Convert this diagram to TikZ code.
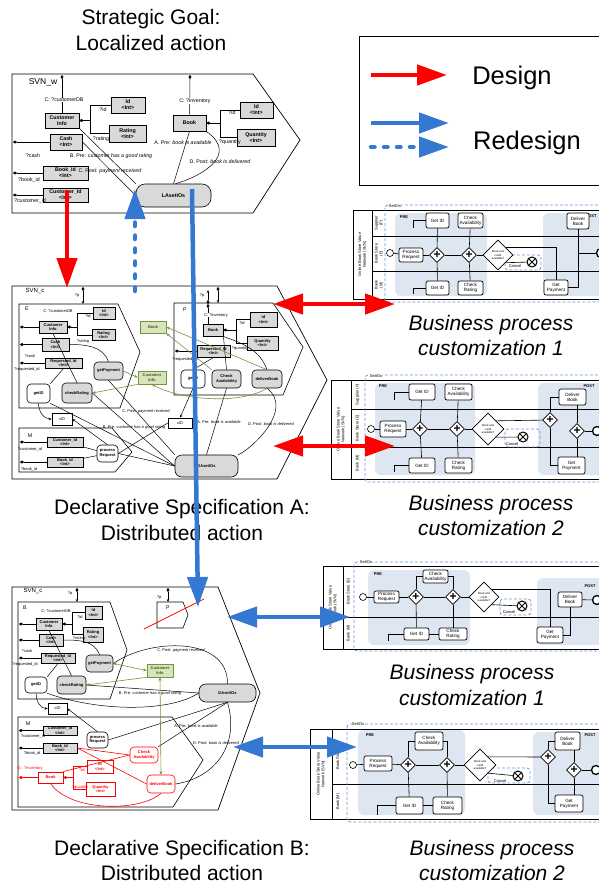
\documentclass[tikz,border=0pt]{standalone}
\usepackage{fontspec}
\setmainfont{Liberation Sans}
\usepackage{tikz}
\usetikzlibrary{arrows.meta}
\usetikzlibrary{shapes.geometric}

\definecolor{dsred}{RGB}{255,0,0}
\definecolor{rdblue}{RGB}{52,120,210}
\definecolor{boxgray}{RGB}{217,217,217}
\definecolor{grnfill}{RGB}{216,228,188}
\definecolor{grnline}{RGB}{118,146,60}
\definecolor{prefill}{RGB}{222,230,242}
\definecolor{grpblue}{RGB}{105,150,210}

\newcommand\tny{\fontsize{4}{4.6}\selectfont}
\newcommand\sml{\fontsize{5.3}{6}\selectfont}
\newcommand\bpf{\fontsize{4.6}{5.2}\selectfont}
\newcommand\ttl{\fontsize{21}{25.5}\selectfont}
\newcommand\lgd{\fontsize{25.5}{28}\selectfont}

\tikzset{
  sz/.style 2 args={minimum width=#1pt, minimum height=#2pt},
  heading/.style={font=\ttl, align=center, inner sep=0pt},
  svn/.style={draw, line width=0.7pt},
  attrw/.style={draw, fill=boxgray, line width=1pt, font=\sml\bfseries, align=center, inner sep=0pt},
  attr/.style={draw, fill=boxgray, line width=0.9pt, font=\tny\bfseries, align=center, inner sep=0pt},
  actg/.style={draw, fill=boxgray, rounded corners=4pt, line width=0.6pt, font=\tny\bfseries, align=center, inner sep=0pt},
  actw/.style={actg, fill=white},
  cidbox/.style={draw, fill=white, line width=0.6pt, font=\tny, inner sep=0pt},
  redattr/.style={attr, draw=dsred, text=dsred, fill=white},
  redact/.style={actw, draw=dsred, text=dsred},
  grnbox/.style={draw=grnline, fill=grnfill, line width=0.7pt, font=\tny\bfseries, text=grnline!60!black, align=center, inner sep=0pt},
  lblw/.style={font=\sml, inner sep=0.3pt},
  lbl/.style={font=\tny, inner sep=0.3pt},
  cnx/.style={line width=0.5pt},
  port/.style={line width=0.5pt, {Diamond[length=4pt,width=3pt]}-},
  portin/.style={line width=0.5pt, {Diamond[length=4pt,width=3pt]}-{Stealth[length=3pt,width=2.5pt]}},
  arrto/.style={line width=0.5pt, -{Stealth[length=3pt,width=2.5pt]}},
  grnln/.style={draw=grnline, line width=0.6pt, -{Stealth[length=3.5pt,width=3pt]}},
  grnln2/.style={draw=grnline, line width=0.6pt, {Stealth[length=3.5pt,width=3pt]}-{Stealth[length=3.5pt,width=3pt]}},
  redln/.style={draw=dsred, line width=0.6pt},
  pool/.style={draw, line width=0.8pt},
  lane/.style={line width=0.8pt},
  bptask/.style={draw, fill=white, rounded corners=2pt, line width=0.7pt, font=\bpf, align=center, inner sep=0pt},
  gw/.style={draw, fill=white, diamond, aspect=1, line width=0.7pt, inner sep=0pt, minimum size=15pt, font=\fontsize{12}{12}\selectfont\bfseries},
  bpdec/.style={draw, fill=white, diamond, aspect=1, line width=0.7pt, inner sep=0pt, minimum size=30pt, font=\fontsize{2.8}{3.2}\selectfont, align=center},
  startev/.style={circle, draw, fill=white, minimum size=7pt, inner sep=0pt, line width=0.6pt},
  endev/.style={circle, draw, fill=white, minimum size=9pt, inner sep=0pt, line width=1.3pt},
  cancelev/.style={circle, draw, fill=white, minimum size=10pt, inner sep=0pt, line width=1pt},
  grp/.style={draw=grpblue, dash pattern=on 3pt off 2pt, line width=0.8pt, rounded corners=3pt},
  prepost/.style={fill=prefill, rounded corners=6pt},
  flow/.style={line width=0.6pt},
  bplbl/.style={rotate=90, font=\tny, align=center, inner sep=0pt},
  dsgn/.style={draw=dsred, line width=4.5pt, -{Triangle[length=30pt,width=20pt]}},
  rdsgn/.style={draw=rdblue, line width=4.5pt, -{Triangle[length=30pt,width=20pt]}},
  dsgn2/.style={draw=dsred, line width=4.5pt, {Triangle[length=30pt,width=20pt]}-{Triangle[length=30pt,width=20pt]}},
  rdsgn2/.style={draw=rdblue, line width=4.5pt, {Triangle[length=30pt,width=20pt]}-{Triangle[length=30pt,width=20pt]}},
  rdash/.style={dash pattern=on 3.5pt off 9.5pt, line cap=round}
}

\newcommand\crossev[1]{\draw[line width=0.8pt] (#1.45) -- (#1.225) (#1.135) -- (#1.315);}

\begin{document}
\begin{tikzpicture}[x=1pt, y=-1pt, every node/.style={font=\tny, inner sep=0.5pt}]
\useasboundingbox (0,0) rectangle (599,884);

% titles
\node[heading] (goal) at (151,29.75) {Strategic Goal:\\Localized action};
\node[heading] (specA) at (182,520) {Declarative Specification A:\\Distributed action};
\node[heading] (specB) at (182,860.5) {Declarative Specification B:\\Distributed action};
\node[heading, font=\ttl\itshape] (cust1) at (491,335.5) {Business process\\customization 1};
\node[heading, font=\ttl\itshape] (cust2) at (491,515.5) {Business process\\customization 2};
\node[heading, font=\ttl\itshape] (cust3) at (472,685) {Business process\\customization 1};
\node[heading, font=\ttl\itshape] (cust4) at (492,860.5) {Business process\\customization 2};

% legend
\draw[line width=0.8pt] (359,36) rectangle (602,185);
\coordinate (lg1a) at (371,75);
\coordinate (lg1b) at (447,75);
\coordinate (lg2a) at (371,123);
\coordinate (lg2b) at (449,123);
\coordinate (lg3a) at (371,147);
\coordinate (lg3b) at (449,147);
\draw[dsgn] (lg1a) -- (lg1b);
\draw[rdsgn] (lg2a) -- (lg2b);
\draw[rdsgn, rdash] (lg3a) -- (lg3b);
\node[font=\lgd, inner sep=0pt] (lgdes) at (512,78) {Design};
\node[font=\lgd, inner sep=0pt] (lgred) at (527,142.5) {Redesign};

% ---------------- SVN_w ----------------
\draw[svn] (12,74) -- (253,74) -- (300,140) -- (253,213) -- (12,213) -- cycle;
\node[font=\fontsize{8.5}{9}\selectfont] (svnw) at (43,82) {SVN\_w};
\node[attrw, sz={34}{15}] (cinfoW) at (62,120.5) {Customer\\Info};
\node[attrw, sz={34}{16}] (idW) at (128,105) {Id\\<Int>};
\node[attrw, sz={37}{17}] (ratW) at (127.5,133.5) {Rating\\<Int>};
\node[attrw, sz={32}{16}] (cashW) at (66,142) {Cash\\<Int>};
\node[attrw, sz={45}{14}] (bidW) at (65.5,173) {Book\_Id\\<Int>};
\node[attrw, sz={45}{14}] (cidW) at (65.5,195) {Customer\_Id\\<Int>};
\node[attrw, sz={33}{16}] (bookW) at (189.5,123) {Book};
\node[attrw, sz={33}{16}] (id2W) at (256.5,110) {Id\\<Int>};
\node[attrw, sz={38}{17}] (qtyW) at (256,137.5) {Quantity\\<Int>};
\node[actg, sz={75}{23}, rounded corners=9pt, font=\sml\bfseries] (laW) at (173.5,195.5) {LAsetIOs};

\coordinate (pw1) at (62,75);
\coordinate (pw2) at (190,75);
\coordinate (pw3) at (13,142);
\coordinate (pw4) at (13,173);
\coordinate (pw5) at (13,195);
\draw[port] (pw1) -- (cinfoW);
\draw[port] (pw2) -- (bookW);
\draw[port] (pw3) -- (cashW);
\draw[port] (pw4) -- (bidW);
\draw[port] (pw5) -- (cidW);
\draw[port] (cinfoW.east) -- ++(11,0) coordinate (bw1) |- (idW);
\draw[cnx] (bw1) |- (ratW);
\draw[port] (bookW.east) -- ++(14,0) coordinate (bw2) |- (id2W);
\draw[cnx] (bw2) |- (qtyW);

\draw[cnx] (cinfoW.south east) -- (laW.north west);
\draw[cnx] (cashW.east) -- (laW.west);
\draw[cnx] (bookW.south) -- (laW.north);
\draw[cnx] (bookW.south east) .. controls (240,155) and (200,177) .. ([xshift=2pt]laW.north);

\node[lblw, fill=white] (lw1) at (64,100) {C: ?customerDB};
\node[lblw, fill=white] (lw2) at (195,101) {C: ?inventory};
\node[lblw] (lw3) at (103,110) {?id};
\node[lblw] (lw4) at (101,139) {?rating};
\node[lblw] (lw5) at (33,156) {?cash};
\node[lblw] (lw6) at (29,180) {?book\_id};
\node[lblw] (lw7) at (30,201) {?customer\_id};
\node[lblw] (lw8) at (232,113) {?id};
\node[lblw] (lw9) at (230,142) {?quantity};
\node[lblw] (lwa) at (183,143) {A. Pre: \textit{book is available}};
\node[lblw] (lwb) at (111,156) {B. Pre: \textit{customer has a good rating}};
\node[lblw] (lwc) at (110,171) {C. Post: \textit{payment received}};
\node[lblw] (lwd) at (220,162) {D. Post: \textit{book is delivered}};

% ---------------- SVN_c (A) ----------------
\draw[svn] (12,286) -- (277,286) -- (327,380) -- (277,479) -- (12,479) -- cycle;
\draw[svn, line width=0.6pt] (19,304) -- (118,304) -- (140,352) -- (120,408) -- (19,408) -- cycle;
\draw[svn, line width=0.6pt] (174,303) -- (273,303) -- (303,347) -- (283,395) -- (174,395) -- cycle;
\draw[svn, line width=0.6pt] (19,428) -- (112,428) -- (132,452) -- (115,472) -- (19,472) -- cycle;
\node[font=\fontsize{6}{7}\selectfont] (svna) at (35,290.5) {SVN\_c};
\node[font=\sml] (lae) at (27,309) {E};
\node[font=\sml] (lap) at (185,310) {P};
\node[font=\sml] (lam) at (30,436) {M};

\node[attr, sz={28}{12}] (cinfoA) at (53,327) {Customer\\Info};
\node[attr, sz={22}{12}] (idA) at (104,313) {Id\\<Int>};
\node[attr, sz={23}{11}] (ratA) at (103.5,335) {Rating\\<Int>};
\node[attr, sz={27}{13}] (cashA) at (55.5,344.5) {Cash\\<Int>};
\node[attr, sz={37}{10}] (reqA) at (63.5,363) {Requested\_Id\\<Int>};
\node[actw, sz={23}{19}] (getidA) at (38.5,393.5) {getID};
\node[actg, sz={30}{20}] (chkA) at (77,393) {checkRating};
\node[actg, sz={29}{18}] (payA) at (108.5,371) {getPayment};
\node[grnbox, sz={26}{12}] (gbookA) at (153,327) {Book};
\node[grnbox, sz={28}{13}] (gcinfoA) at (152,377.5) {Customer\\Info};
\node[cidbox, sz={20}{12}] (cidA) at (62,419) {cID};
\node[attr, sz={36}{10}] (cuidA) at (65,442) {Customer\_Id\\<Int>};
\node[attr, sz={36}{10}] (bkidA) at (65,462) {Book\_Id\\<Int>};
\node[actw, sz={21}{17}] (procA) at (107.5,453.5) {process\\Request};
\node[actg, sz={63}{22}, rounded corners=7pt] (daA) at (206.5,466) {DAsetIOs};
\node[cidbox, sz={24}{10}] (cid2A) at (180,423) {cID};
\node[attr, sz={20}{12}] (bookA) at (213,330) {Book};
\node[attr, sz={27}{15}] (id2A) at (263.5,319.5) {Id\\<Int>};
\node[attr, sz={31}{14}] (qtyA) at (262.5,343) {Quantity\\<Int>};
\node[attr, sz={33}{12}] (req2A) at (213.5,351) {Requested\_Id\\<Int>};
\node[actw, sz={24}{18}] (getid2A) at (193,379) {getID};
\node[actg, sz={29}{18}] (chkavA) at (226.5,379) {Check\\Availability};
\node[actg, sz={30}{18}] (delA) at (267,379) {deliverBook};

\coordinate (pa1) at (83,287);
\coordinate (pa1e) at (83,304);
\coordinate (pa2) at (218,287);
\coordinate (pa2e) at (218,303);
\coordinate (pa3) at (208,304);
\coordinate (pa3e) at (208,290);
\draw[portin] (pa1) -- (pa1e);
\draw[portin] (pa2) -- (pa2e);
\draw[portin] (pa3) -- (pa3e);
\draw[port] (pa3) -- (pa3 |- bookA.north);
\coordinate (pe1) at (20,327);
\coordinate (pe2) at (20,344.5);
\coordinate (pe3) at (20,363);
\coordinate (pp1) at (175,351);
\coordinate (pm1) at (20,442);
\coordinate (pm2) at (20,462);
\draw[port] (pe1) -- (cinfoA);
\draw[port] (pe2) -- (cashA);
\draw[port] (pe3) -- (reqA);
\draw[port] (pp1) -- (req2A);
\draw[port] (pm1) -- (cuidA);
\draw[port] (pm2) -- (bkidA);
\draw[port] (cinfoA.east) -- ++(10,0) coordinate (ba1) |- (idA);
\draw[cnx] (ba1) |- (ratA);
\draw[port] (bookA.east) -- ++(13,0) coordinate (ba2) |- (id2A);
\draw[cnx] (ba2) |- (qtyA);

\draw[cnx] (cinfoA.south) -- (chkA.north);
\draw[cnx] (cashA.east) to[out=0, in=110] (payA.north);
\draw[cnx] (reqA.south) -- (getidA.north east);
\draw[arrto] (getidA.south) to[out=-90, in=180] (cidA.west);
\draw[arrto] (procA.north) -- (cidA.east);
\draw[cnx] (getidA.south east) -- (daA.west);
\draw[cnx] (chkA.east) -- (daA.west);
\draw[cnx] (payA.south) -- (daA.north west);
\draw[cnx] (procA.east) -- (daA.west);
\draw[cnx] (procA.east) -- (cid2A.west);
\draw[cnx] (cuidA) -- (procA);
\draw[cnx] (bkidA) -- (procA);
\draw[cnx] (req2A.south) -- (getid2A.north);
\draw[arrto] (getid2A.south) -- (cid2A.north);
\draw[cnx] (chkavA.south) -- (daA.north);
\draw[cnx] (delA.south) .. controls (295,410) and (250,450) .. (daA.north east);
\draw[cnx] (bookA.south east) -- (chkavA.north);
\draw[cnx] (bookA.south east) to[out=-20, in=110] (delA.north);
\draw[grnln] (chkavA.north west) -- (gbookA.south east);
\draw[grnln] (delA.north) -- (gbookA.east);
\draw[grnln] (payA.east) -- (gcinfoA.west);
\draw[grnln] (gcinfoA.south west) -- (chkA.east);
\draw[grnln] (delA.south) .. controls (240,405) and (180,400) .. (gcinfoA.south);

\node[lbl] (lcdbA) at (58,311) {C: ?customerDB};
\node[lbl] (lidA) at (88,316) {?id};
\node[lbl] (lratA) at (83,341) {?rating};
\node[lbl] (lcashA) at (30,356) {?cash};
\node[lbl] (lreqA) at (27,369) {?requested\_id};
\node[lbl] (lpa1) at (77,296) {?p};
\node[lbl] (lpa2) at (202,296) {?p};
\node[lbl, fill=white] (linvA) at (216,315) {C: ?inventory};
\node[lbl] (lreq2A) at (185,359) {?requested\_id};
\node[lbl] (lid2A) at (242,323) {?id};
\node[lbl] (lqtyA) at (240,348) {?quantity};
\node[lbl] (lcuA) at (30,449) {?customer\_id};
\node[lbl] (lbkA) at (29,469) {?book\_id};
\node[lbl] (lac) at (146,411) {C. Post: \textit{payment received}};
\node[lbl] (lab) at (134,427) {B. Pre: \textit{customer has a good rating}};
\node[lbl] (laa) at (219,422) {A. Pre: \textit{book is available}};
\node[lbl] (lad) at (271,424) {D. Post: \textit{book is delivered}};

% ---------------- SVN_c (B) ----------------
\draw[svn] (12,587) -- (218,587) -- (260,693) -- (218,810) -- (12,810) -- cycle;
\draw[svn, line width=0.6pt] (18,602) -- (110,602) -- (127,650) -- (110,699) -- (18,699) -- cycle;
\draw[svn, line width=0.6pt] (157,602) -- (183,602) -- (188,615) -- (183,628) -- (157,628) -- cycle;
\draw[svn, line width=0.6pt] (18,717) -- (172,717) -- (203,760) -- (173,807) -- (18,807) -- cycle;
\node[font=\fontsize{6}{7}\selectfont] (svnb) at (33,590.5) {SVN\_c};
\node[font=\sml] (lbB) at (25,608) {B};
\node[font=\sml] (lbP) at (168,608) {P};
\node[font=\sml] (lbM) at (28,724) {M};

\node[attr, sz={26}{12}] (cinfoB) at (49,624) {Customer\\Info};
\node[attr, sz={17}{13}] (idB) at (93.5,612.5) {Id\\<Int>};
\node[attr, sz={20}{15}] (ratB) at (93,634.5) {Rating\\<Int>};
\node[attr, sz={24}{12}] (cashB) at (51,640) {Cash\\<Int>};
\node[attr, sz={34}{10}] (reqB) at (58,658) {Requested\_Id\\<Int>};
\node[actw, sz={22}{16}] (getidB) at (36,685) {getID};
\node[actg, sz={29}{18}] (chkB) at (71.5,685) {checkRating};
\node[actg, sz={27}{17}] (payB) at (99.5,663.5) {getPayment};
\node[grnbox, sz={26}{13}] (grnB) at (160,670.5) {Customer\\Info};
\node[actg, sz={57}{18}, rounded corners=7pt] (daB) at (227.5,693) {DAsetIOs};
\node[cidbox, sz={19}{11}] (cidB) at (57.5,708.5) {cID};
\node[attr, sz={34}{9}] (cuidB) at (60,730.5) {Customer\_Id\\<Int>};
\node[attr, sz={34}{10}] (bkidB) at (60,748) {Book\_Id\\<Int>};
\node[actw, sz={21}{16}] (procB) at (97.5,740) {process\\Request};
\node[redact, sz={28}{16}] (chkavB) at (144,755) {Check\\Availability};
\node[redact, sz={28}{18}] (delB) at (161,784) {deliverBook};
\node[redattr, sz={25}{11}] (bookB) at (50.5,777.5) {Book};
\node[redattr, sz={26}{13}] (idB2) at (100,766.5) {Id\\<Int>};
\node[redattr, sz={29}{14}] (qtyB) at (100.5,789) {Quantity\\<Int>};

\coordinate (pb1) at (77,588);
\coordinate (pb1e) at (77,602);
\coordinate (pb2) at (168,588);
\coordinate (pb2e) at (168,602);
\draw[portin] (pb1) -- (pb1e);
\draw[portin] (pb2) -- (pb2e);
\coordinate (pb3) at (19,624);
\coordinate (pb4) at (19,640);
\coordinate (pb5) at (19,658);
\coordinate (pb6) at (19,730.5);
\coordinate (pb7) at (19,748);
\coordinate (pb8) at (19,777.5);
\draw[port] (pb3) -- (cinfoB);
\draw[port] (pb4) -- (cashB);
\draw[port] (pb5) -- (reqB);
\draw[port] (pb6) -- (cuidB);
\draw[port] (pb7) -- (bkidB);
\draw[port, draw=dsred, {Diamond[length=4pt,width=3pt,fill=dsred]}-] (pb8) -- (bookB);
\draw[port] (cinfoB.east) -- ++(10,0) coordinate (bb1) |- (idB);
\draw[cnx] (bb1) |- (ratB);
\draw[port, draw=dsred, {Diamond[length=4pt,width=3pt,fill=dsred]}-] (bookB.east) -- ++(10,0) coordinate (bb2) |- (idB2);
\draw[redln] (bb2) |- (qtyB);
\coordinate (rs1) at (144,629);
\coordinate (rs2) at (204,599);
\draw[redln, line width=0.7pt] (rs1) -- (rs2);

\draw[cnx] (cinfoB.south) -- (chkB.north);
\draw[cnx] (cashB.east) to[out=0, in=110] (payB.north);
\draw[cnx] (reqB.south) -- (getidB.north east);
\draw[arrto] (getidB.south) to[out=-90, in=180] (cidB.west);
\draw[arrto] (procB.north) -- (cidB.east);
\draw[cnx] (getidB.south east) .. controls (100,712) and (170,712) .. (daB.west);
\draw[cnx] (chkB.east) -- (daB.west);
\draw[cnx] (payB.east) .. controls (150,638) and (228,636) .. (daB.north);
\draw[cnx] (procB.east) -- (daB.south);
\draw[cnx] (chkavB.north east) -- (daB.south);
\draw[cnx] (daB.south) .. controls (240,745) and (215,778) .. (delB.east);
\draw[redln] (bkidB.east) -- (chkavB.west);
\draw[redln] (bkidB.east) -- (delB.west);
\draw[redln] (bookB.north east) -- (chkavB.west);
\draw[redln] (bookB.south) .. controls (70,812) and (140,812) .. (delB.south);
\draw[grnln2] (payB.east) -- (grnB.west);
\draw[grnln] (grnB.south west) -- (chkB.east);
\draw[grnln2] (grnB.south) -- (delB.north);

\node[lbl] (lcdbB) at (56,611) {C: ?customerDB};
\node[lbl] (lidB) at (80,617) {?id};
\node[lbl] (lratB) at (79,638) {?rating};
\node[lbl] (lcashB) at (27,651) {?cash};
\node[lbl] (lreqB) at (25,664) {?requested\_id};
\node[lbl] (lpb1) at (70,594) {?p};
\node[lbl] (lpb2) at (159,598) {?p};
\node[lbl] (lcuB) at (33,736) {?customer\_id};
\node[lbl] (lbkB) at (32,753) {?book\_id};
\node[lbl, text=dsred] (linvB) at (30,768) {O.: ?inventory};
\node[lbl, text=dsred] (lidB2) at (82,770) {?id};
\node[lbl, text=dsred] (lqtyB) at (80,787) {?quantity};
\node[lbl] (lbc) at (181,650) {C. Post: \textit{payment received}};
\node[lbl] (lbb) at (150,693) {B. Pre: \textit{customer has a good rating}};
\node[lbl] (lba) at (196,726) {A. Pre: \textit{book is available}};
\node[lbl] (lbd) at (216,743) {D. Post: \textit{book is delivered}};

% ---------------- BP 1 ----------------
\fill[prepost] (395,213) rectangle (487,296);
\fill[prepost] (543,213) rectangle (615,296);
\draw[pool] (353,210) rectangle (615,299);
\draw[lane] (372,210) -- (372,299);
\draw[lane] (372,236) -- (615,236);
\draw[lane] (372,271) -- (615,271);
\draw[grp] (385,205) rectangle (618,302);
\node[lbl, fill=white] (g1lb) at (395,206) {SetIOs};
\node[lbl, font=\tny\bfseries] (pre1) at (404,217) {PRE};
\node[lbl, font=\tny\bfseries] (post1) at (591,216) {POST};
\node[bplbl] (t1) at (362.5,254.5) {Online Book Store Value\\Network (SVN)};
\node[bplbl] (l1a) at (379,223) {Supplier\\(P)};
\node[bplbl] (l1b) at (379,253.5) {Book Store\\(E)};
\node[bplbl] (l1c) at (379,285) {Bank\\(M)};
\draw[grp] (505,255) rectangle (541,270);
\node[startev] (s1) at (390,253) {};
\node[bptask, sz={24}{14}] (pr1) at (411,255) {Process\\Request};
\node[gw] (ga1) at (437,255) {+};
\node[gw] (gb1) at (469,255) {+};
\node[bpdec] (d1) at (498,255) {Book and\\credit\\available?};
\node[cancelev] (x1) at (532,262) {};
\crossev{x1}
\node[lbl] (cn1) at (515,266) {Cancel};
\node[bptask, sz={23}{15}] (gi1) at (437.5,220.5) {Get ID};
\node[bptask, sz={25}{15}] (ca1) at (470.5,220.5) {Check\\Availability};
\node[bptask, sz={23}{14}] (gj1) at (437.5,288) {Get ID};
\node[bptask, sz={25}{14}] (cr1) at (470.5,288) {Check\\Rating};
\node[bptask, sz={22}{16}] (db1) at (578,221) {Deliver\\Book};
\node[bptask, sz={24}{15}] (gp1) at (556,287.5) {Get\\Payment};
\node[endev] (e1) at (601,253) {};
\draw[flow] (s1) -- (pr1);
\draw[flow] (pr1) -- (ga1);
\draw[flow] (ga1) -- (gb1);
\draw[flow] (gb1) -- (d1);
\draw[flow] (ga1) -- (gi1);
\draw[flow] (ga1) -- (gj1);
\draw[flow] (gb1) -- (ca1);
\draw[flow] (gb1) -- (cr1);
\draw[flow] (d1.north east) -| (gp1.north);
\draw[flow] (d1.south east) -- (x1);
\draw[flow] (gp1.east) -| (db1.south);
\draw[flow] (db1) |- (e1);
\draw[flow] (gi1.west) -- ++(-12,0) -- ++(0,7);
\draw[flow] (gj1.west) -- ++(-12,0) -- ++(0,6);

% ---------------- BP 2 ----------------
\fill[prepost] (375,383) rectangle (475,475);
\fill[prepost] (538,383) rectangle (615,475);
\draw[pool] (331,380) rectangle (615,479);
\draw[lane] (351,380) -- (351,479);
\draw[lane] (351,409) -- (615,409);
\draw[lane] (351,447) -- (615,447);
\draw[grp] (365,375) rectangle (618,482);
\node[lbl, fill=white] (g2lb) at (376,376) {SetIOs};
\node[lbl, font=\tny\bfseries] (pre2) at (383,386) {PRE};
\node[lbl, font=\tny\bfseries] (post2) at (589,386) {POST};
\node[bplbl] (t2) at (341,429.5) {Online Book Store Value\\Network (SVN)};
\node[bplbl] (l2a) at (357.5,394.5) {Supplier (P)};
\node[bplbl] (l2b) at (357.5,428) {Book Store (E)};
\node[bplbl] (l2c) at (357.5,463) {Bank (M)};
\draw[grp] (505,429) rectangle (540,447);
\node[startev] (s2) at (371,429) {};
\node[bptask, sz={26}{16}] (pr2) at (393,429) {Process\\Request};
\node[gw] (ga2) at (420,429) {+};
\node[gw] (gb2) at (457,429) {+};
\node[bpdec, minimum size=32pt] (d2) at (488,429) {Book and\\credit\\available?};
\node[cancelev] (x2) at (523,437) {};
\crossev{x2}
\node[lbl] (cn2) at (512,444) {Cancel};
\node[bptask, sz={26}{16}] (gi2) at (422,392) {Get ID};
\node[bptask, sz={27}{16}] (ca2) at (458.5,392) {Check\\Availability};
\node[bptask, sz={26}{15}] (gj2) at (422,465.5) {Get ID};
\node[bptask, sz={27}{15}] (cr2) at (458.5,465.5) {Check\\Rating};
\node[bptask, sz={27}{16}] (db2) at (572.5,397) {Deliver\\Book};
\node[gw] (gc2) at (550,420) {+};
\node[gw] (gd2) at (577,431) {+};
\node[endev] (e2) at (597,431) {};
\node[bptask, sz={27}{17}] (gp2) at (571.5,465.5) {Get\\Payment};
\draw[flow] (s2) -- (pr2);
\draw[flow] (pr2) -- (ga2);
\draw[flow] (ga2) -- (gb2);
\draw[flow] (gb2) -- (d2);
\draw[flow] (ga2) -- (gi2);
\draw[flow] (ga2) -- (gj2);
\draw[flow] (gb2) -- (ca2);
\draw[flow] (gb2) -- (cr2);
\draw[flow] (d2.north east) -- (gc2);
\draw[flow] (d2.south east) -- (x2);
\draw[flow] (gc2) |- (db2);
\draw[flow] (gc2) |- (gp2);
\draw[flow] (gd2) -- (gd2 |- db2.south);
\draw[flow] (gd2) -- (gd2 |- gp2.north);
\draw[flow] (gd2) -- (e2);
\draw[flow] (gi2.west) -- ++(-14,0) -- ++(0,8);
\draw[flow] (gj2.west) -- ++(-14,0) -- ++(0,6);

% ---------------- BP 3 ----------------
\fill[prepost] (368,570) rectangle (470,645);
\fill[prepost] (537,578) rectangle (615,645);
\draw[pool] (323,566) rectangle (615,649);
\draw[lane] (343,566) -- (343,649);
\draw[lane] (343,617) -- (615,617);
\draw[grp] (354,562) rectangle (618,651);
\node[lbl, fill=white] (g3lb) at (366,562) {SetIOs};
\node[lbl, font=\tny\bfseries] (pre3) at (378,574) {PRE};
\node[lbl, font=\tny\bfseries] (post3) at (590,586) {POST};
\node[bplbl] (t3) at (333,607.5) {Online Book Store Value\\Network (SVN)};
\node[bplbl] (l3a) at (348.5,591.5) {Book Store (B)};
\node[bplbl] (l3b) at (348.5,633) {Bank (M)};
\draw[grp] (500,599) rectangle (531,615);
\node[startev] (s3) at (363,597) {};
\node[bptask, sz={25}{12}] (pr3) at (386.5,597) {Process\\Request};
\node[gw] (ga3) at (416,597) {+};
\node[bptask, sz={25}{13}] (ca3) at (435.5,576.5) {Check\\Availability};
\node[gw] (gb3) at (453,597) {+};
\node[bpdec] (d3) at (484,597) {Book and\\credit\\available?};
\node[cancelev] (x3) at (522,606) {};
\crossev{x3}
\node[lbl] (cn3) at (509,612) {Cancel};
\node[bptask, sz={25}{12}] (gi3) at (416.5,634) {Get ID};
\node[bptask, sz={28}{12}] (cr3) at (453,634) {Check\\Rating};
\node[bptask, sz={24}{15}] (db3) at (570,599.5) {Deliver\\Book};
\node[endev] (e3) at (597,600) {};
\node[bptask, sz={26}{16}] (gp3) at (550,635) {Get\\Payment};
\draw[flow] (s3) -- (pr3);
\draw[flow] (pr3) -- (ga3);
\draw[flow] (ga3) -- (gb3);
\draw[flow] (gb3) -- (d3);
\draw[flow] (ga3) |- (ca3);
\draw[flow] (ca3) -| (gb3);
\draw[flow] (ga3) -- (gi3);
\draw[flow] (gi3) -- (cr3);
\draw[flow] (cr3) -- (gb3);
\draw[flow] (d3.north east) -| (gp3.north);
\draw[flow] (d3.south east) -- (x3);
\draw[flow] (gp3.east) -| (db3.south);
\draw[flow] (db3) -- (e3);
\draw[flow] (gi3.west) -- ++(-15,0) -- ++(0,7);

% ---------------- BP 4 ----------------
\fill[prepost] (358,730) rectangle (465,815);
\fill[prepost] (533,732) rectangle (615,815);
\draw[pool] (310,729) rectangle (615,819);
\draw[lane] (332,729) -- (332,819);
\draw[lane] (332,784) -- (615,784);
\draw[grp] (347,724) rectangle (618,822);
\node[lbl, fill=white] (g4lb) at (358,724) {SetIOs};
\node[lbl, font=\tny\bfseries] (pre4) at (370,735) {PRE};
\node[lbl, font=\tny\bfseries] (post4) at (590,735) {POST};
\node[bplbl] (t4) at (321,774) {Online Book Store Value\\Network (SVN)};
\node[bplbl] (l4a) at (338,756.5) {Book Store (B)};
\node[bplbl] (l4b) at (338,801.5) {Bank (M)};
\draw[grp] (488,768) rectangle (530,783);
\node[startev] (s4) at (353,765) {};
\node[bptask, sz={28}{15}] (pr4) at (378,763.5) {Process\\Request};
\node[gw] (ga4) at (408,765) {+};
\node[bptask, sz={28}{18}] (ca4) at (429,741) {Check\\Availability};
\node[gw] (gb4) at (447,765) {+};
\node[bpdec, minimum size=32pt] (d4) at (480,765) {Book and\\credit\\available?};
\node[cancelev] (x4) at (518,776) {};
\crossev{x4}
\node[lbl] (cn4) at (500,781) {Cancel};
\node[bptask, sz={27}{17}] (gi4) at (409.5,805.5) {Get ID};
\node[bptask, sz={29}{17}] (cr4) at (447.5,805.5) {Check\\Rating};
\node[gw] (gc4) at (548,757) {+};
\node[bptask, sz={25}{18}] (db4) at (567.5,741) {Deliver\\Book};
\node[gw] (gd4) at (574,770) {+};
\node[endev] (e4) at (596,770) {};
\node[bptask, sz={28}{17}] (gp4) at (569,803.5) {Get\\Payment};
\draw[flow] (s4) -- (pr4);
\draw[flow] (pr4) -- (ga4);
\draw[flow] (ga4) -- (gb4);
\draw[flow] (gb4) -- (d4);
\draw[flow] (ga4) |- (ca4);
\draw[flow] (ca4) -| (gb4);
\draw[flow] (ga4) -- (gi4);
\draw[flow] (gi4) -- (cr4);
\draw[flow] (cr4) -- (gb4);
\draw[flow] (d4.north east) -- (gc4);
\draw[flow] (d4.south east) -- (x4);
\draw[flow] (gc4) |- (db4);
\draw[flow] (gc4) |- (gp4);
\draw[flow] (gd4) -- (gd4 |- db4.south);
\draw[flow] (gd4) -- (gd4 |- gp4.north);
\draw[flow] (gd4) -- (e4);
\draw[flow] (gi4.west) -- ++(-18,0) -- ++(0,9);

% ---------------- design / redesign arrows ----------------
\coordinate (rdA) at (67,190);
\coordinate (rdB) at (67,288);
\coordinate (bdA) at (135,291);
\coordinate (bdB) at (135,189);
\coordinate (bsA) at (192,189);
\coordinate (bsB) at (198,607);
\coordinate (r1a) at (273,304);
\coordinate (r1b) at (395,304);
\coordinate (r2a) at (273,446);
\coordinate (r2b) at (395,446);
\coordinate (b1a) at (227,617);
\coordinate (b1b) at (350,617);
\coordinate (b2a) at (233,747);
\coordinate (b2b) at (357,747);
\draw[dsgn] (rdA) -- (rdB);
\draw[rdsgn, rdash] (bdA) -- (bdB);
\draw[rdsgn] (bsA) -- (bsB);
\draw[dsgn2] (r1a) -- (r1b);
\draw[dsgn2] (r2a) -- (r2b);
\draw[rdsgn2] (b1a) -- (b1b);
\draw[rdsgn2] (b2a) -- (b2b);
\end{tikzpicture}
\end{document}
